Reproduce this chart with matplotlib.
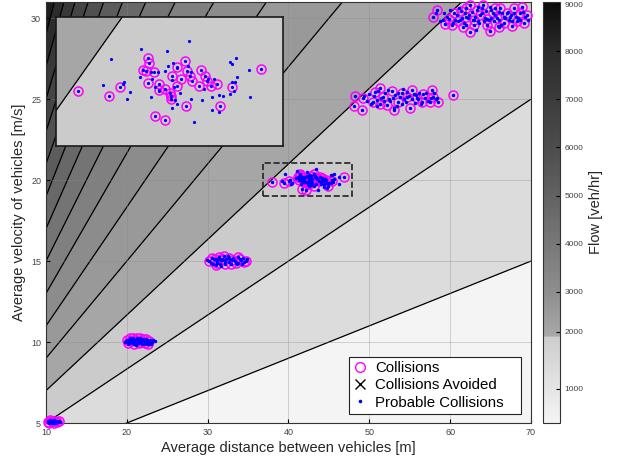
import numpy as np
import matplotlib.pyplot as plt
from matplotlib.colors import LinearSegmentedColormap, FuncNorm
from matplotlib.lines import Line2D
from matplotlib.patches import Rectangle

plt.rcParams['font.family'] = ['Liberation Sans', 'DejaVu Sans']

# flow field: q = 3600 * v / (d + vehicle length)
vehicle_length = 5.0
contour_levels = [720, 1200, 1680, 2160, 2640, 3120, 3600, 4080, 4560,
                  5040, 5520, 6000, 6480, 6960]
band_colors = ['#f4f4f4', '#dcdcdc', '#cbcbcb', '#a6a6a6', '#999999', '#8c8c8c',
               '#808080', '#747474', '#686868', '#5c5c5c', '#505050', '#444444',
               '#383838', '#2c2c2c', '#1e1e1e']

# colorbar ticks as drawn (uneven spacing in the original)
cbar_values = [404, 1000, 2000, 3000, 4000, 5000, 6000, 7000, 8000, 9000, 9044]
cbar_pos = [0, .081, .217, .312, .426, .540, .655, .769, .883, .995, 1]
cbar_ticks = [1000, 2000, 3000, 4000, 5000, 6000, 7000, 8000, 9000]

# collisions (circled points)
coll_d = [10.2, 10.5, 10.8, 11.1, 11.4, 10.4, 11.0, 11.6,
          20.0, 20.4, 20.8, 21.2, 21.6, 22.0, 22.4, 20.2, 20.9, 21.5, 22.2, 22.8, 21.0, 21.8, 20.5, 22.6,
          30.2, 30.6, 31.0, 31.4, 31.8, 32.2, 32.6, 33.0, 33.5, 34.0, 34.5, 31.2, 32.0, 32.9, 33.8, 30.9, 34.8, 31.6,
          37.96, 39.46, 40.01, 41.38, 41.43, 41.12, 41.25, 41.67, 41.36, 41.87, 41.89, 42.16, 42.41, 42.45,
          42.50, 42.75, 43.13, 43.23, 42.96, 42.75, 41.72, 42.19, 43.20, 43.48, 43.81, 43.91, 44.13, 44.20,
          44.39, 44.70, 44.86, 45.42, 46.82, 43.39, 42.48,
          48.2, 48.15, 49.07, 49.2, 50.7, 51.3, 51.75, 52.8, 53.0, 53.6, 54.0, 54.6, 55.05, 55.25, 56.5,
          56.7, 57.7, 57.9, 58.5, 57.5, 60.4, 50.5, 52.2, 55.9, 51.3,
          57.9, 58.4, 59.4, 59.9, 60.5, 61.0, 61.4, 61.9, 62.4, 62.5, 62.9, 63.3, 63.7, 64.1, 64.5, 64.95,
          65.3, 65.8, 66.2, 66.6, 67.0, 67.4, 67.9, 68.3, 68.9, 69.1, 69.5, 60.2, 61.6, 63.0, 64.6, 66.0,
          67.6, 62.0, 65.5, 68.6]
coll_v = [5.05, 5.2, 5.1, 5.15, 5.05, 5.0, 5.0, 5.1,
          10.15, 10.25, 10.28, 10.22, 10.26, 10.2, 10.18, 9.95, 9.9, 9.93, 9.96, 10.05, 10.1, 10.0, 10.05, 9.9,
          15.0, 15.2, 14.75, 15.25, 15.1, 14.85, 15.2, 15.05, 14.9, 15.15, 14.95, 14.9, 15.3, 14.8, 15.25, 15.1, 15.0, 15.05,
          19.88, 19.80, 19.93, 20.40, 20.32, 20.21, 20.20, 20.17, 20.00, 19.99, 19.89, 19.91, 19.84, 19.79,
          20.12, 20.25, 20.36, 20.19, 20.07, 19.96, 19.48, 19.41, 19.63, 20.04, 19.95, 20.21, 20.11, 20.03,
          19.95, 19.99, 19.63, 19.93, 20.22, 20.11, 19.74,
          25.18, 24.57, 24.32, 25.04, 25.45, 25.66, 25.14, 25.51, 24.32, 24.83, 25.35, 25.14, 24.43, 25.56, 24.83,
          25.3, 25.56, 25.14, 24.83, 24.83, 25.25, 24.83, 24.63, 25.04, 24.73,
          30.08, 30.5, 29.67, 29.95, 30.3, 29.8, 30.45, 30.1, 29.15, 30.8, 29.9, 30.5, 30.2, 30.8, 29.6, 29.2,
          30.3, 30.0, 30.6, 29.7, 30.35, 30.05, 30.65, 29.85, 30.7, 29.7, 30.2, 29.55, 29.45, 29.55, 29.95, 29.45,
          29.5, 30.6, 30.6, 30.3]

# probable collisions that were not circled
extra_d = [10.3, 10.6, 10.9, 11.2, 11.5, 10.7, 11.3, 10.4, 11.0, 11.7,
           19.8, 20.1, 20.3, 20.6, 20.7, 21.0, 21.1, 21.3, 21.4, 21.7, 21.9, 22.1, 22.3, 22.5, 22.7, 22.9,
           23.1, 23.3, 20.4, 21.2, 21.9, 22.4, 23.0, 19.9, 20.8, 21.6, 22.8, 23.5,
           29.9, 30.4, 30.8, 31.1, 31.5, 31.9, 32.3, 32.7, 33.1, 33.4, 33.7, 34.1, 34.4, 34.9, 31.3, 32.1,
           32.8, 33.6, 30.7, 34.3, 32.5, 31.7,
           39.56, 39.20, 40.20, 40.49, 40.36, 41.0, 42.29, 43.36, 41.53, 41.86, 40.99, 41.55, 41.68, 41.9,
           42.19, 42.32, 42.55, 42.78, 42.5, 42.6, 42.9, 42.66, 42.5, 42.78, 43.42, 43.3, 43.46, 43.6, 43.98,
           44.08, 44.27, 44.55, 44.45, 44.45, 44.8, 44.81, 45.0, 45.32, 45.4, 45.62, 45.65, 45.42, 45.56,
           45.53, 45.32, 46.24, 46.31, 41.52, 40.14,
           49.7, 50.0, 50.9, 51.5, 52.0, 52.4, 53.2, 53.4, 54.3, 54.5, 55.5, 55.7, 56.2, 56.9, 57.2, 58.0,
           58.2, 53.8, 52.6, 54.9, 51.0, 56.0, 50.3,
           49.4, 50.2, 50.6, 51.1, 51.8, 52.3, 52.9, 53.5, 54.1, 54.7, 55.3, 55.8, 56.4, 57.0, 57.6, 58.4,
           53.0, 54.2,
           58.2, 59.1, 59.6, 60.3, 60.8, 61.2, 61.8, 62.2, 62.7, 63.1, 63.5, 63.9, 64.3, 64.8, 65.1, 65.6,
           66.0, 66.4, 66.8, 67.2, 67.7, 68.1, 68.6, 69.3, 62.0, 63.6, 64.0, 65.0, 66.3, 67.5, 61.5, 64.4,
           58.8, 59.3, 60.0, 60.6, 61.1, 61.7, 62.3, 62.8, 63.4, 64.2, 64.9, 65.4, 66.1, 66.7, 67.3, 67.9,
           68.4, 69.0, 69.6, 63.2, 65.9]
extra_v = [5.1, 5.05, 5.15, 5.05, 5.1, 4.98, 5.0, 5.15, 5.2, 5.05,
           10.0, 9.85, 10.1, 9.95, 10.15, 10.05, 9.8, 10.1, 9.95, 10.15, 9.85, 10.05, 9.9, 10.1, 9.95, 10.15,
           10.0, 10.1, 9.92, 10.0, 10.12, 9.98, 9.88, 10.08, 10.02, 10.05, 10.02, 10.05,
           15.05, 14.9, 15.1, 15.0, 14.8, 15.05, 15.15, 14.95, 15.2, 15.0, 14.9, 15.05, 15.2, 15.1, 15.15, 14.95,
           15.1, 14.85, 14.85, 14.8, 15.3, 14.7,
           20.38, 19.97, 20.01, 19.85, 19.74, 20.55, 20.52, 20.67, 19.78, 20.17, 20.10, 20.07, 19.93, 19.87,
           20.19, 20.27, 20.32, 20.24, 20.05, 19.93, 19.84, 19.73, 19.61, 19.67, 20.17, 20.27, 19.74, 19.38, 19.73,
           19.91, 20.07, 20.07, 19.78, 19.57, 19.54, 19.81, 19.8, 20.33, 20.31, 20.4, 20.09, 20.02, 20.02,
           19.88, 19.82, 20.21, 19.78, 20.18, 19.99,
           24.9, 25.3, 24.95, 25.1, 25.4, 25.0, 25.25, 24.6, 25.0, 24.8, 25.3, 24.75, 25.4, 25.05, 24.9, 25.35,
           25.0, 25.15, 24.9, 25.2, 24.6, 25.0, 24.75,
           25.2, 24.7, 25.2, 25.5, 24.9, 25.55, 25.1, 25.4, 24.7, 25.45, 25.0, 25.25, 24.7, 25.4, 25.1, 25.1,
           24.45, 25.6,
           30.3, 29.9, 30.1, 29.7, 30.2, 29.9, 30.3, 30.0, 30.4, 30.1, 29.8, 30.3, 30.0, 29.9, 30.5, 30.2,
           29.9, 30.3, 30.0, 30.4, 29.8, 30.1, 29.9, 30.1, 29.6, 29.7, 30.6, 30.0, 29.6, 30.2, 30.0, 30.45,
           29.8, 30.3, 30.5, 29.9, 30.6, 29.7, 30.2, 29.9, 30.7, 29.8, 30.7, 29.8, 30.4, 30.1, 29.9, 30.3,
           30.0, 30.4, 29.9, 29.3, 29.5]

prob_d = coll_d + extra_d
prob_v = coll_v + extra_v
avoided_d = []
avoided_v = []

# zoom box
zoom_x = (36.9, 47.9)
zoom_y = (19.0, 21.05)

d_grid = np.linspace(10, 70, 500)
v_grid = np.linspace(4.5, 31.5, 500)
D, V = np.meshgrid(d_grid, v_grid)
flow = 3600 * V / (D + vehicle_length)
fill_levels = [0] + contour_levels + [20000]

fig = plt.figure(figsize=(6.18, 4.62), dpi=100)
ax = fig.add_axes([0.0744, 0.0844, 0.7848, 0.9113])


def draw_panel(a, circle_ms, dot_ms):
    a.contourf(D, V, flow, levels=fill_levels, colors=band_colors, zorder=0)
    a.contour(D, V, flow, levels=contour_levels, colors='black', linewidths=0.9, zorder=1)
    a.plot(coll_d, coll_v, 'o', mfc='none', mec='#ff00ff', ms=circle_ms, mew=1.1,
           zorder=4, clip_on=False)
    a.plot(prob_d, prob_v, 'o', color='#0000ff', ms=dot_ms, mew=0, zorder=5, clip_on=False)


draw_panel(ax, 6.5, 2.5)
ax.set_xlim(10, 70)
ax.set_ylim(5, 31)
ax.set_xticks(range(10, 71, 10))
ax.set_yticks(range(5, 31, 5))
ax.grid(True, color='#888888', alpha=0.35, linewidth=0.7)
ax.tick_params(direction='in', labelsize=6.5, labelcolor='#444444', length=3, width=0.8)
for s in ax.spines.values():
    s.set_color('#333333')
ax.set_xlabel('Average distance between vehicles [m]', fontsize=10.5, color='#262626', labelpad=3)
ax.set_ylabel('Average velocity of vehicles [m/s]', fontsize=10.5, color='#262626', labelpad=4)

ax.add_patch(Rectangle((zoom_x[0], zoom_y[0]), zoom_x[1] - zoom_x[0], zoom_y[1] - zoom_y[0],
                       fill=False, ls='--', lw=1.2, ec='#222222', zorder=6))

handles = [Line2D([], [], marker='o', mfc='none', mec='#ff00ff', ls='none', ms=7, mew=1.0),
           Line2D(avoided_d, avoided_v, marker='x', color='black', ls='none', ms=6.5),
           Line2D([], [], marker='o', color='#0000ff', ls='none', ms=2.6, mew=0)]
leg = ax.legend(handles, ['Collisions', 'Collisions Avoided', 'Probable Collisions   '],
                loc='lower right', bbox_to_anchor=(0.979, 0.021), borderaxespad=0,
                fancybox=False, edgecolor='#222222', framealpha=1, fontsize=10.8,
                handlelength=0.9, handletextpad=0.55, labelspacing=0.22, borderpad=0.3)
leg.get_frame().set_linewidth(0.8)
leg.set_zorder(10)

# inset zoom
axins = fig.add_axes([0.0901, 0.6846, 0.3683, 0.2779])
draw_panel(axins, 6.5, 2.3)
axins.set_xlim(*zoom_x)
axins.set_ylim(*zoom_y)
axins.set_xticks([])
axins.set_yticks([])
for s in axins.spines.values():
    s.set_linewidth(1.2)
    s.set_color('#1a1a1a')
for line in axins.lines:
    line.set_clip_on(True)

# colorbar
cmap = LinearSegmentedColormap.from_list('flow', [
    (0.0, '#f4f4f4'), (0.20, '#cecece'), (0.207, '#a8a8a8'), (0.31, '#8e8e8e'),
    (0.43, '#777777'), (0.54, '#626262'), (0.66, '#4c4c4c'), (0.77, '#3c3c3c'),
    (0.88, '#2c2c2c'), (1.0, '#0c0c0c')])
norm = FuncNorm((lambda x: np.interp(x, cbar_values, cbar_pos),
                 lambda y: np.interp(y, cbar_pos, cbar_values)),
                vmin=cbar_values[0], vmax=cbar_values[-1])
cax = fig.add_axes([0.878, 0.0844, 0.028, 0.9113])
sm = plt.cm.ScalarMappable(norm=norm, cmap=cmap)
cb = fig.colorbar(sm, cax=cax, ticks=cbar_ticks)
cb.ax.tick_params(direction='in', labelsize=6, labelcolor='#444444', length=3)
cb.outline.set_edgecolor('#333333')
cb.set_label('Flow [veh/hr]', fontsize=10.5, color='#262626', labelpad=4)

fig.savefig('out.png', dpi=100)
